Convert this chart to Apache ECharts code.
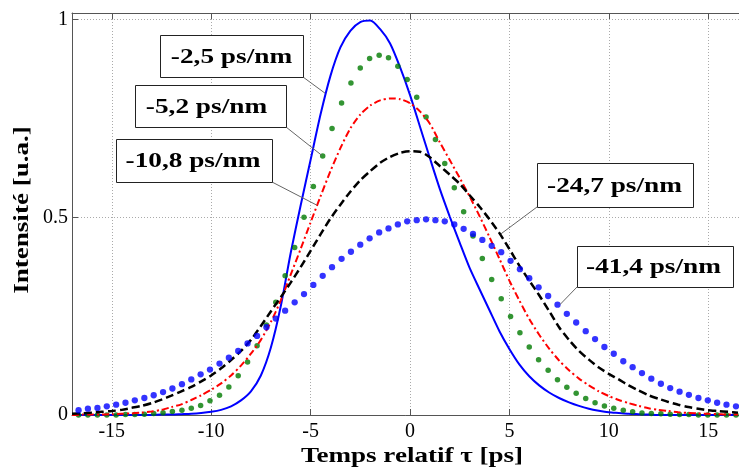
<!DOCTYPE html>
<html>
<head>
<meta charset="utf-8">
<script src="https://cdn.jsdelivr.net/npm/echarts@6/dist/echarts.min.js"></script>
<style>
html,body{margin:0;padding:0;background:#fff;}
#c{width:739px;height:470px;}
</style>
</head>
<body>
<div id="c"></div>
<script>
// Time axis (ps) for the continuous curves
const tLine = [-17,-16.5,-16,-15.5,-15,-14.5,-14,-13.5,-13,-12.5,-12,-11.5,-11,-10.5,-10,-9.5,-9,-8.5,-8,-7.5,-7,-6.5,-6,-5.5,-5,-4.5,-4,-3.5,-3,-2.5,-2,-1.5,-1,-0.5,0,0.5,1,1.5,2,2.5,3,3.5,4,4.5,5,5.5,6,6.5,7,7.5,8,8.5,9,9.5,10,10.5,11,11.5,12,12.5,13,13.5,14,14.5,15,15.5,16,16.5];
// -2,5 ps/nm (solid blue)
const d2_5 = [0,0,0,0,0,0,0,0,0,0.001,0.001,0.002,0.003,0.005,0.008,0.013,0.022,0.037,0.06,0.1,0.17,0.275,0.41,0.53,0.645,0.76,0.858,0.93,0.972,0.994,0.998,0.976,0.94,0.88,0.81,0.73,0.65,0.572,0.502,0.436,0.372,0.318,0.265,0.212,0.167,0.128,0.098,0.075,0.057,0.043,0.032,0.023,0.016,0.011,0.007,0.005,0.003,0.002,0.001,0,0,0,0,0,0,0,0,0];
// -10,8 ps/nm (red dash-dot)
const d10_8 = [0,0.001,0.001,0.001,0.002,0.003,0.004,0.006,0.009,0.013,0.02,0.027,0.038,0.05,0.064,0.08,0.1,0.125,0.155,0.19,0.235,0.29,0.355,0.42,0.487,0.553,0.617,0.675,0.725,0.76,0.783,0.796,0.801,0.799,0.789,0.768,0.737,0.69,0.645,0.6,0.553,0.503,0.45,0.395,0.34,0.29,0.243,0.203,0.168,0.138,0.113,0.092,0.075,0.06,0.048,0.038,0.03,0.023,0.017,0.013,0.01,0.007,0.005,0.004,0.003,0.002,0.001,0.001];
// -24,7 ps/nm (black dashed)
const d24_7 = [0.003,0.004,0.006,0.008,0.01,0.013,0.018,0.023,0.03,0.039,0.049,0.06,0.071,0.085,0.1,0.118,0.139,0.162,0.19,0.225,0.262,0.298,0.335,0.374,0.415,0.457,0.497,0.532,0.565,0.594,0.617,0.638,0.653,0.663,0.667,0.666,0.652,0.63,0.608,0.585,0.556,0.527,0.495,0.46,0.42,0.378,0.34,0.303,0.263,0.222,0.19,0.162,0.14,0.12,0.104,0.09,0.075,0.062,0.05,0.041,0.033,0.026,0.02,0.016,0.012,0.01,0.008,0.006];
// Sample instants of the dotted (marker) curves
const tDots = [-16.67,-16.20,-15.72,-15.25,-14.78,-14.31,-13.84,-13.36,-12.89,-12.42,-11.95,-11.47,-11.00,-10.53,-10.06,-9.58,-9.11,-8.64,-8.17,-7.69,-7.22,-6.75,-6.28,-5.80,-5.33,-4.86,-4.39,-3.92,-3.44,-2.97,-2.50,-2.03,-1.55,-1.08,-0.61,-0.14,0.34,0.81,1.28,1.75,2.23,2.70,3.17,3.64,4.11,4.59,5.06,5.53,6.00,6.47,6.95,7.42,7.89,8.36,8.84,9.31,9.78,10.25,10.73,11.20,11.67,12.14,12.62,13.09,13.56,14.03,14.51,14.98,15.45,15.92,16.40];
// -5,2 ps/nm (green dots)
const d5_2 = [0,0,0,0,0,0.001,0.001,0.002,0.004,0.006,0.009,0.012,0.017,0.024,0.036,0.05,0.071,0.099,0.134,0.175,0.228,0.285,0.352,0.424,0.5,0.578,0.655,0.725,0.789,0.84,0.878,0.902,0.91,0.904,0.882,0.849,0.804,0.754,0.697,0.636,0.575,0.514,0.453,0.396,0.343,0.294,0.249,0.208,0.172,0.14,0.113,0.089,0.07,0.055,0.042,0.031,0.023,0.017,0.012,0.008,0.005,0.004,0.003,0.002,0.001,0.001,0,0,0,0,0];
// -41,4 ps/nm (blue dots)
const d41_4 = [0.012,0.016,0.018,0.022,0.026,0.031,0.037,0.043,0.05,0.058,0.067,0.078,0.09,0.103,0.115,0.13,0.145,0.162,0.181,0.2,0.222,0.244,0.264,0.285,0.306,0.329,0.352,0.374,0.395,0.413,0.431,0.447,0.462,0.472,0.482,0.49,0.493,0.495,0.493,0.49,0.482,0.471,0.458,0.443,0.428,0.412,0.39,0.369,0.346,0.323,0.301,0.279,0.256,0.234,0.212,0.192,0.172,0.155,0.136,0.121,0.106,0.092,0.079,0.068,0.059,0.051,0.043,0.037,0.031,0.026,0.022];

const xTicks = [-15,-10,-5,0,5,10,15];
const yTicks = [0,0.5,1];
const seriesNames = ['-2,5 ps/nm','-5,2 ps/nm','-10,8 ps/nm','-24,7 ps/nm','-41,4 ps/nm'];
// annotation anchors on the curves (data coords)
const anchorX = [-4.27,-4.44,-4.69,4.57,7.54];
const anchorY = [0.814,0.657,0.531,0.458,0.279];

const zip = (a,b)=>a.map((v,i)=>[v,b[i]]);
const FONT = '"Liberation Serif","Times New Roman",serif';
const axisCol = '#555';

const chart = echarts.init(document.getElementById('c'), null, {renderer:'canvas'});
const option = {
  animation:false,
  backgroundColor:'#fff',
  grid:{left:72,right:0,top:13,bottom:55,containLabel:false},
  xAxis:[{
    type:'value',min:-17,max:16.55,position:'bottom',
    axisLine:{show:true,onZero:false,lineStyle:{color:axisCol,width:1}},
    axisTick:{show:true,inside:true,length:6,customValues:xTicks,lineStyle:{color:axisCol}},
    axisLabel:{customValues:xTicks,color:'#000',fontFamily:FONT,fontSize:20,margin:7},
    splitLine:{show:true,lineStyle:{type:[1,2],color:'#aaa',width:1}}
  },{
    type:'value',min:-17,max:16.55,position:'top',
    axisLine:{show:true,onZero:false,lineStyle:{color:axisCol,width:1}},
    axisTick:{show:true,inside:true,length:6,customValues:xTicks,lineStyle:{color:axisCol}},
    axisLabel:{show:false},
    splitLine:{show:false}
  }],
  yAxis:[{
    type:'value',min:0,max:1.017,
    axisLine:{show:true,onZero:false,lineStyle:{color:axisCol,width:1}},
    axisTick:{show:true,inside:true,length:6,customValues:yTicks,lineStyle:{color:axisCol}},
    axisLabel:{customValues:yTicks,color:'#000',fontFamily:FONT,fontSize:20,margin:4},
    splitLine:{show:true,lineStyle:{type:[1,2],color:'#aaa',width:1}}
  }],
  series:[
    {name:seriesNames[0],type:'line',data:zip(tLine,d2_5),showSymbol:false,smooth:0.25,
     lineStyle:{color:'#0000ff',width:2},z:3},
    {name:seriesNames[1],type:'scatter',data:zip(tDots,d5_2),symbol:'circle',symbolSize:5.5,clip:false,
     itemStyle:{color:'#007a00'},z:4},
    {name:seriesNames[2],type:'line',data:zip(tLine,d10_8),showSymbol:false,smooth:0.25,
     lineStyle:{color:'#ff0000',width:2,type:[7,3,2,3]},z:5},
    {name:seriesNames[3],type:'line',data:zip(tLine,d24_7),showSymbol:false,smooth:0.25,
     lineStyle:{color:'#000',width:2.5,type:[8,4]},z:6},
    {name:seriesNames[4],type:'scatter',data:zip(tDots,d41_4),symbol:'circle',symbolSize:6.3,clip:false,
     itemStyle:{color:'#0000ff'},z:7}
  ]
};
chart.setOption(option);

// annotation boxes (pixel layout) + leader lines to data anchors
const boxes = [
  {x:160,y:35,w:143,h:42,tx:231.5,corner:'br'},
  {x:135,y:85,w:151,h:42,tx:206.5,corner:'br'},
  {x:116,y:139,w:156,h:43,tx:193,corner:'br'},
  {x:537,y:163,w:156,h:44,tx:614.5,corner:'bl'},
  {x:577,y:246,w:156,h:41,tx:653.5,corner:'bl'}
];
const SX = 1.24;
const els = [];
boxes.forEach((b,i)=>{
  const p = chart.convertToPixel({gridIndex:0},[anchorX[i],anchorY[i]]);
  const cx = b.corner==='br' ? b.x+b.w : b.x;
  const cy = b.y+b.h;
  els.push({type:'line',z:100,shape:{x1:cx,y1:cy,x2:p[0],y2:p[1]},style:{stroke:'#666',lineWidth:1}});
  els.push({type:'rect',z:101,shape:{x:b.x+0.5,y:b.y+0.5,width:b.w,height:b.h},style:{fill:'#fff',stroke:'#222',lineWidth:1}});
  els.push({type:'text',z:102,x:b.tx,y:b.y+b.h/2+1,scaleX:SX,style:{text:seriesNames[i],x:0,y:0,align:'center',verticalAlign:'middle',
    font:'bold 22px '+FONT,fill:'#000'}});
});
els.push({type:'text',z:102,x:412,y:456,scaleX:1.23,style:{text:'Temps relatif τ [ps]',x:0,y:0,align:'center',verticalAlign:'middle',font:'bold 22px '+FONT,fill:'#000'}});
els.push({type:'text',z:102,x:22,y:210,rotation:Math.PI/2,scaleX:1.23,style:{text:'Intensité [u.a.]',x:0,y:0,align:'center',verticalAlign:'middle',font:'bold 22px '+FONT,fill:'#000'}});
chart.setOption({graphic:{elements:els}});
</script>
</body>
</html>
